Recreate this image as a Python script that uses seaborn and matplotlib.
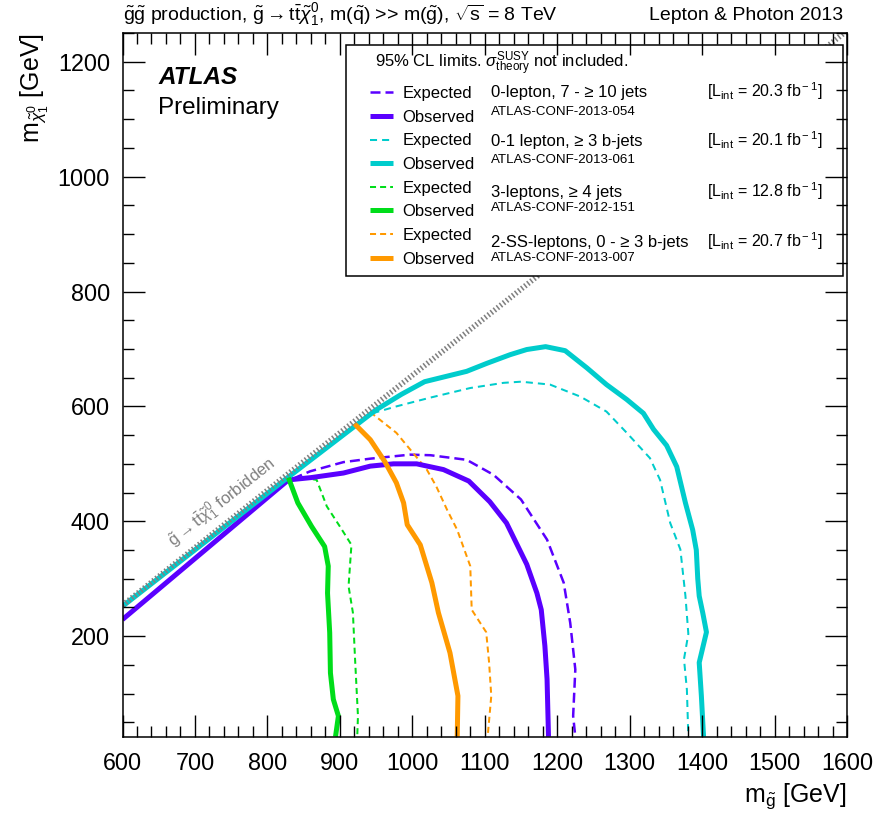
import numpy as np
import pandas as pd
import matplotlib
matplotlib.use("Agg")
import matplotlib.pyplot as plt
import seaborn as sns
from matplotlib.lines import Line2D
from matplotlib.patches import Rectangle
from matplotlib.ticker import MultipleLocator

# ------------------------------------------------------- #
#            LIMIT CONTOURS  (m_gluino, m_chi10) [GeV]    #
# ------------------------------------------------------- #
# 0-lepton, 7 - >=10 jets  (ATLAS-CONF-2013-054)
zerolep_obs_mg = [600, 829, 860, 905, 942, 974, 1006, 1043, 1078, 1107, 1130, 1158, 1172, 1178, 1183, 1186, 1188]
zerolep_obs_mchi = [229, 472, 476, 484, 496, 500, 500, 490, 470, 434, 397, 325, 275, 246, 183, 125, 25]
zerolep_exp_mg = [835, 859, 905, 942, 997, 1025, 1075, 1112, 1150, 1186, 1209, 1218, 1225, 1222, 1225]
zerolep_exp_mchi = [474, 487, 503, 509, 516, 515, 507, 481, 438, 368, 293, 223, 142, 61, 25]

# 0-1 lepton, >=3 b-jets  (ATLAS-CONF-2013-061)
bjets_obs_mg = [600, 830, 950, 985, 1017, 1075, 1103, 1135, 1158, 1184, 1211, 1241, 1268, 1296, 1319, 1333,
                1351, 1365, 1377, 1387, 1392, 1394, 1396, 1401, 1406, 1396, 1399, 1402]
bjets_obs_mchi = [252, 478, 594, 621, 643, 661, 675, 690, 699, 704, 697, 667, 638, 612, 588, 560,
                  532, 495, 432, 385, 350, 300, 270, 240, 207, 154, 96, 25]
bjets_exp_mg = [945, 978, 1024, 1080, 1126, 1150, 1190, 1232, 1268, 1296, 1328, 1342, 1356, 1370, 1377, 1381,
                1375, 1379, 1381]
bjets_exp_mchi = [588, 600, 615, 632, 641, 643, 638, 617, 591, 554, 510, 472, 397, 351, 270, 204,
                  160, 107, 25]

# 3-leptons, >=4 jets  (ATLAS-CONF-2012-151)
threelep_obs_mg = [829, 842, 861, 879, 884, 883, 886, 887, 891, 898, 894]
threelep_obs_mchi = [476, 432, 391, 356, 322, 275, 206, 136, 90, 61, 25]
threelep_exp_mg = [849, 868, 882, 900, 916, 912, 918, 921, 925, 924]
threelep_exp_mchi = [476, 472, 426, 391, 359, 287, 241, 160, 61, 25]

# 2-SS-leptons, 0 - >=3 b-jets  (ATLAS-CONF-2013-007)
ssleps_obs_mg = [920, 942, 962, 978, 988, 993, 1011, 1027, 1036, 1052, 1063, 1062]
ssleps_obs_mchi = [570, 542, 504, 467, 432, 394, 359, 293, 241, 171, 96, 25]
ssleps_exp_mg = [942, 955, 978, 1001, 1020, 1033, 1048, 1062, 1080, 1082, 1102, 1106, 1109, 1104]
ssleps_exp_mchi = [590, 577, 554, 519, 490, 461, 420, 385, 322, 246, 207, 154, 96, 25]

# kinematic limit m_g = 2 m_t + m_chi
forbidden_mg = [600, 1600]
forbidden_mchi = [254, 1254]

analyses = ["0-lepton, 7 - \u2265 10 jets", "0-1 lepton, \u2265 3 b-jets",
            "3-leptons, \u2265 4 jets", "2-SS-leptons, 0 - \u2265 3 b-jets"]
conf_notes = ["ATLAS-CONF-2013-054", "ATLAS-CONF-2013-061", "ATLAS-CONF-2012-151", "ATLAS-CONF-2013-007"]
lumis = ["20.3", "20.1", "12.8", "20.7"]
colors = ["#5a00ff", "#00cccc", "#00dd1a", "#ff9900"]

curves = {
    (0, "obs"): (zerolep_obs_mg, zerolep_obs_mchi), (0, "exp"): (zerolep_exp_mg, zerolep_exp_mchi),
    (1, "obs"): (bjets_obs_mg, bjets_obs_mchi), (1, "exp"): (bjets_exp_mg, bjets_exp_mchi),
    (2, "obs"): (threelep_obs_mg, threelep_obs_mchi), (2, "exp"): (threelep_exp_mg, threelep_exp_mchi),
    (3, "obs"): (ssleps_obs_mg, ssleps_obs_mchi), (3, "exp"): (ssleps_exp_mg, ssleps_exp_mchi),
}
rows = []
for (i, kind), (mg, mchi) in curves.items():
    for k, (a, b) in enumerate(zip(mg, mchi)):
        rows.append({"mg": a, "mchi": b, "ana": i, "kind": kind, "order": k})
df = pd.DataFrame(rows)

exp_dash = {0: (4, 2), 1: (3.5, 2.5), 2: (3, 2), 3: (3, 2)}
exp_lw = {0: 1.8, 1: 1.45, 2: 1.45, 3: 1.45}

# ------------------------------------------------------- #
#                         STYLE                           #
# ------------------------------------------------------- #
sns.set_style("ticks")
plt.rcParams["font.family"] = ["Liberation Sans", "DejaVu Sans"]
plt.rcParams["mathtext.fontset"] = "custom"
plt.rcParams["mathtext.rm"] = "Liberation Sans"
plt.rcParams["mathtext.it"] = "Liberation Sans:italic"
plt.rcParams["mathtext.bf"] = "Liberation Sans:bold"
plt.rcParams["mathtext.sf"] = "Liberation Sans"
for key in ["text.color", "axes.labelcolor", "xtick.color", "ytick.color", "axes.edgecolor"]:
    plt.rcParams[key] = "black"

W, H = 891, 818
fig = plt.figure(figsize=(W / 100, H / 100), dpi=100)
ax = fig.add_axes([122.5 / W, 1 - 736.7 / H, 724.5 / W, 703.7 / H])

# ------------------------------------------------------- #
#                         CURVES                          #
# ------------------------------------------------------- #
for i in range(4):
    sub = df[(df["ana"] == i) & (df["kind"] == "exp")].sort_values("order")
    sns.lineplot(data=sub, x="mg", y="mchi", sort=False, estimator=None, ax=ax,
                 color=colors[i], lw=exp_lw[i], linestyle=(0, exp_dash[i]), zorder=2.0)
    sub = df[(df["ana"] == i) & (df["kind"] == "obs")].sort_values("order")
    sns.lineplot(data=sub, x="mg", y="mchi", sort=False, estimator=None, ax=ax,
                 color=colors[i], lw=3.6, solid_capstyle="butt", zorder=2.1)

forb = pd.DataFrame({"mg": forbidden_mg, "mchi": forbidden_mchi})
sns.lineplot(data=forb, x="mg", y="mchi", sort=False, estimator=None, ax=ax,
             color="#808080", lw=4.0, linestyle=(0, (0.28, 0.42)), zorder=2.2)
ax.text(670, 355, r"$\tilde{\rm g}\rightarrow{\rm t}\bar{\rm t}\tilde{\chi}_{1}^{0}$ forbidden",
        color="#808080", fontsize=12, rotation=45, transform_rotates_text=True,
        rotation_mode="anchor", ha="left", va="baseline")

# ------------------------------------------------------- #
#                          AXES                           #
# ------------------------------------------------------- #
ax.set_xlim(600, 1600)
ax.set_ylim(25, 1250)
ax.set_xticks(range(600, 1601, 100))
ax.set_yticks(range(200, 1201, 200))
ax.xaxis.set_minor_locator(MultipleLocator(20))
ax.yaxis.set_minor_locator(MultipleLocator(50))
ax.tick_params(which="both", direction="in", top=True, right=True, width=1.0, color="black")
ax.tick_params(which="major", length=15.5, labelsize=16.8)
ax.tick_params(axis="x", which="major", pad=11)
ax.tick_params(axis="y", which="major", pad=9)
ax.tick_params(which="minor", length=7.7)
for s in ax.spines.values():
    s.set_linewidth(1.1)
    s.set_color("black")
ax.set_axisbelow(False)

ax.set_xlabel(r"m$_{\tilde{\rm g}}$ [GeV]", fontsize=18, loc="right")
ax.set_ylabel(r"m$_{\tilde{\chi}_{1}^{0}}$ [GeV]", fontsize=18, loc="top")
ax.xaxis.set_label_coords(1.0, -0.064)
ax.yaxis.set_label_coords(-0.098, 1.0)

# ------------------------------------------------------- #
#                         LEGEND                          #
# ------------------------------------------------------- #
def axx(px):
    return (px - 122.5) / 724.5


def axy(py):
    return (736.7 - py) / 703.7


ax.add_patch(Rectangle((axx(346), axy(276)), axx(843) - axx(346), axy(45) - axy(276),
                       transform=ax.transAxes, facecolor="white", edgecolor="black",
                       lw=1.1, zorder=2.4))

handles, labels = [], []
for i in range(4):
    handles.append(Line2D([], [], color=colors[i], lw=exp_lw[i], linestyle=(0, exp_dash[i])))
    labels.append("Expected")
    handles.append(Line2D([], [], color=colors[i], lw=3.6, solid_capstyle="butt"))
    labels.append("Observed")
ax.legend(handles, labels, loc="upper left", bbox_to_anchor=(axx(370), axy(86)),
          bbox_transform=ax.transAxes, frameon=False, fontsize=12, handlelength=1.38,
          handletextpad=0.58, labelspacing=0.52, borderpad=0, borderaxespad=0)

ax.text(axx(375), axy(68), r"95% CL limits. $\sigma^{\rm SUSY}_{\rm theory}$ not included.",
        transform=ax.transAxes, fontsize=12, va="baseline", zorder=6)
name_base = [97, 146, 197, 247]
conf_base = [115, 163, 211, 261]
for i in range(4):
    ax.text(axx(490.7), axy(name_base[i]), analyses[i], transform=ax.transAxes,
            fontsize=12, va="baseline", zorder=6)
    ax.text(axx(490.7), axy(conf_base[i]), conf_notes[i], transform=ax.transAxes,
            fontsize=9.6, va="baseline", zorder=6)
    ax.text(axx(706.7), axy(name_base[i]), r"[L$_{\rm int}$ = " + lumis[i] + r" fb$^{\rm -1}$]",
            transform=ax.transAxes, fontsize=11.5, va="baseline", zorder=6)

ax.text(axx(158), axy(78), "ATLAS", transform=ax.transAxes, fontsize=17.5,
        fontweight="bold", fontstyle="italic", va="center")
ax.text(axx(158), axy(108), "Preliminary", transform=ax.transAxes, fontsize=17.5, va="center")

fig.text(123 / W, 1 - 15 / H,
         r"$\tilde{\rm g}\tilde{\rm g}$ production, $\tilde{\rm g}\rightarrow{\rm t}\bar{\rm t}\tilde{\chi}_{1}^{0}$,"
         r" m($\tilde{\rm q}$) >> m($\tilde{\rm g}$), $\sqrt{\rm s}$ = 8 TeV",
         fontsize=14, va="center", ha="left")
fig.text(843 / W, 1 - 15 / H, "Lepton & Photon 2013", fontsize=14, va="center", ha="right")

fig.savefig("out.png", dpi=100)
